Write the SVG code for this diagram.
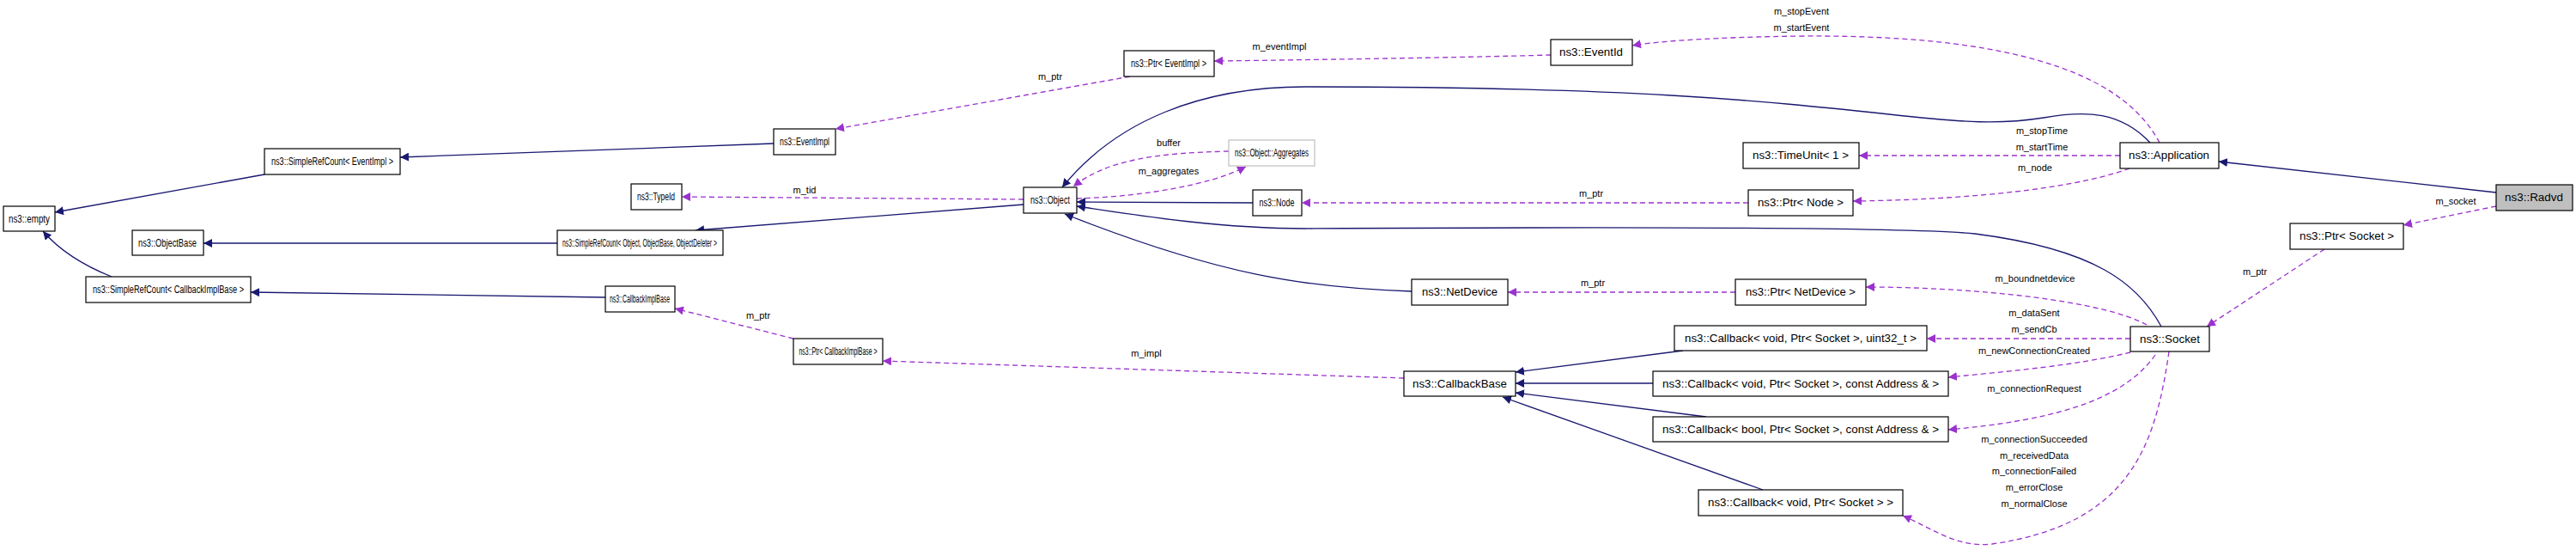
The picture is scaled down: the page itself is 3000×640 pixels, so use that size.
<svg xmlns="http://www.w3.org/2000/svg" width="3000" height="640" viewBox="0 0 3000 640">
<style>
.n rect{fill:#fff;stroke:#000;stroke-width:1.2}
.n text{font-family:"Liberation Sans",Arial,sans-serif;font-size:12px;text-anchor:middle;fill:#000}
.i{fill:none;stroke:#191970;stroke-width:1.3;marker-end:url(#ai)}
.u{fill:none;stroke:#9a32cd;stroke-width:1.3;stroke-dasharray:6,4;marker-end:url(#au)}
.l{font-family:"Liberation Sans",Arial,sans-serif;font-size:11px;text-anchor:middle;fill:#000}
</style>
<defs>
<marker id="ai" viewBox="0 0 10 10" refX="10" refY="5" markerWidth="10" markerHeight="10" markerUnits="userSpaceOnUse" orient="auto"><path d="M0,0L10,5L0,10z" fill="#191970"/></marker>
<marker id="au" viewBox="0 0 10 10" refX="10" refY="5" markerWidth="10" markerHeight="10" markerUnits="userSpaceOnUse" orient="auto"><path d="M0,0L10,5L0,10z" fill="#9a32cd"/></marker>
</defs>
<rect width="3000" height="640" fill="#fff"/>
<g id="edges">
<path class="i" d="M308,203L64,247"/>
<path class="i" d="M130,322C100,310 70,292 50,269"/>
<path class="i" d="M901,167L466,183"/>
<path class="i" d="M649,283L237,283"/>
<path class="i" d="M705,346L292,340"/>
<path class="i" d="M1192,238L810,268"/>
<path class="u" d="M1192,232L794,229"/><text class="l" x="937" y="225">m_tid</text>
<path class="u" d="M1316,89L973,150"/><text class="l" x="1223" y="93">m_ptr</text>
<path class="u" d="M1806,64C1700,67 1500,70 1414,71"/><text class="l" x="1490" y="58">m_eventImpl</text>
<path class="u" d="M2515,166C2480,100 2380,40 2100,42C2000,43 1930,48 1901,53"/><text class="l" x="2098" y="17">m_stopEvent</text><text class="l" x="2098" y="36">m_startEvent</text>
<path class="i" d="M2504,166C2470,130 2430,128 2380,137C2330,145 2290,143 2200,133C2050,117 1900,101 1520,101C1400,101 1300,140 1237,218"/>
<path class="u" d="M2469,181L2165,181"/><text class="l" x="2378" y="156">m_stopTime</text><text class="l" x="2378" y="175">m_startTime</text>
<path class="u" d="M2480,196C2400,225 2250,233 2158,234"/><text class="l" x="2370" y="199">m_node</text>
<path class="u" d="M2036,236L1516,236"/><text class="l" x="1853" y="229">m_ptr</text>
<path class="i" d="M1459,236L1254,235"/>
<path class="u" d="M1431,176C1350,178 1290,185 1250,217"/><text class="l" x="1361" y="170">buffer</text>
<path class="u" d="M1254,231C1330,229 1410,215 1451,194"/><text class="l" x="1361" y="203">m_aggregates</text>
<path class="i" d="M2517,380C2490,330 2440,290 2300,272C2200,262 1700,265 1520,266C1420,266 1320,250 1254,240"/>
<path class="i" d="M1644,339C1520,335 1420,320 1240,249"/>
<path class="i" d="M2907,224L2584,188"/>
<path class="u" d="M2907,240L2799,262"/><text class="l" x="2860" y="238">m_socket</text>
<path class="u" d="M2707,290L2570,380"/><text class="l" x="2626" y="320">m_ptr</text>
<path class="u" d="M2021,340L1756,340"/><text class="l" x="1855" y="333">m_ptr</text>
<path class="u" d="M2500,378C2450,350 2300,334 2173,334"/><text class="l" x="2370" y="328">m_boundnetdevice</text>
<path class="u" d="M2481,394L2244,394"/><text class="l" x="2369" y="368">m_dataSent</text><text class="l" x="2369" y="387">m_sendCb</text>
<path class="u" d="M2481,410C2420,425 2340,432 2269,439"/><text class="l" x="2369" y="412">m_newConnectionCreated</text>
<path class="u" d="M2510,413C2470,470 2380,490 2269,500"/><text class="l" x="2369" y="456">m_connectionRequest</text>
<path class="u" d="M2526,409C2510,520 2480,610 2320,633C2280,638 2250,615 2216,600"/><text class="l" x="2369" y="515">m_connectionSucceeded</text><text class="l" x="2369" y="534">m_receivedData</text><text class="l" x="2369" y="552">m_connectionFailed</text><text class="l" x="2369" y="571">m_errorClose</text><text class="l" x="2369" y="590">m_normalClose</text>
<path class="i" d="M1960,408L1765,433"/>
<path class="i" d="M1925,446L1765,446"/>
<path class="i" d="M1987,485L1765,457"/>
<path class="i" d="M2053,570L1750,462"/>
<path class="u" d="M1635,440L1028,420"/><text class="l" x="1335" y="415">m_impl</text>
<path class="u" d="M924,394L786,359"/><text class="l" x="883" y="371">m_ptr</text>
</g>
<g id="n-empty" class="n"><rect x="4" y="240" width="60" height="29"/><text x="34" y="259" textLength="48" lengthAdjust="spacingAndGlyphs">ns3::empty</text></g>
<g id="n-srcEventImpl" class="n"><rect x="308" y="173" width="158" height="30"/><text x="387" y="192" textLength="142" lengthAdjust="spacingAndGlyphs">ns3::SimpleRefCount&lt; EventImpl &gt;</text></g>
<g id="n-ObjectBase" class="n"><rect x="154" y="268" width="83" height="29"/><text x="195" y="287" textLength="68" lengthAdjust="spacingAndGlyphs">ns3::ObjectBase</text></g>
<g id="n-srcCallbackImplBase" class="n"><rect x="100" y="322" width="192" height="30"/><text x="196" y="341" textLength="176" lengthAdjust="spacingAndGlyphs">ns3::SimpleRefCount&lt; CallbackImplBase &gt;</text></g>
<g id="n-EventImpl" class="n"><rect x="901" y="150" width="72" height="30"/><text x="937" y="169" textLength="58" lengthAdjust="spacingAndGlyphs">ns3::EventImpl</text></g>
<g id="n-TypeId" class="n"><rect x="735" y="214" width="59" height="30"/><text x="764" y="233" textLength="44" lengthAdjust="spacingAndGlyphs">ns3::TypeId</text></g>
<g id="n-srcObject" class="n"><rect x="649" y="268" width="193" height="29"/><text x="745" y="287" textLength="180" lengthAdjust="spacingAndGlyphs">ns3::SimpleRefCount&lt; Object, ObjectBase, ObjectDeleter &gt;</text></g>
<g id="n-CallbackImplBase" class="n"><rect x="705" y="333" width="81" height="30"/><text x="745" y="352" textLength="70" lengthAdjust="spacingAndGlyphs">ns3::CallbackImplBase</text></g>
<g id="n-PtrCallbackImplBase" class="n"><rect x="924" y="394" width="104" height="30"/><text x="976" y="413" textLength="91" lengthAdjust="spacingAndGlyphs">ns3::Ptr&lt; CallbackImplBase &gt;</text></g>
<g id="n-Object" class="n"><rect x="1192" y="218" width="62" height="30"/><text x="1223" y="237" textLength="46" lengthAdjust="spacingAndGlyphs">ns3::Object</text></g>
<g id="n-PtrEventImpl" class="n"><rect x="1309" y="59" width="105" height="30"/><text x="1361" y="78" textLength="88" lengthAdjust="spacingAndGlyphs">ns3::Ptr&lt; EventImpl &gt;</text></g>
<g id="n-Aggregates" class="n"><rect x="1431" y="163" width="100" height="30" style="stroke:#bfbfbf"/><text x="1481" y="182" textLength="86" lengthAdjust="spacingAndGlyphs">ns3::Object::Aggregates</text></g>
<g id="n-Node" class="n"><rect x="1459" y="221" width="57" height="30"/><text x="1487" y="240" textLength="41" lengthAdjust="spacingAndGlyphs">ns3::Node</text></g>
<g id="n-EventId" class="n"><rect x="1806" y="46" width="95" height="30"/><text x="1853" y="65" textLength="74" lengthAdjust="spacingAndGlyphs">ns3::EventId</text></g>
<g id="n-TimeUnit" class="n"><rect x="2030" y="166" width="135" height="30"/><text x="2097" y="185" textLength="112" lengthAdjust="spacingAndGlyphs">ns3::TimeUnit&lt; 1 &gt;</text></g>
<g id="n-Application" class="n"><rect x="2469" y="166" width="115" height="30"/><text x="2526" y="185" textLength="94" lengthAdjust="spacingAndGlyphs">ns3::Application</text></g>
<g id="n-PtrNode" class="n"><rect x="2036" y="221" width="122" height="30"/><text x="2097" y="240" textLength="100" lengthAdjust="spacingAndGlyphs">ns3::Ptr&lt; Node &gt;</text></g>
<g id="n-Radvd" class="n"><rect x="2907" y="215" width="89" height="30" style="fill:#bfbfbf"/><text x="2951" y="234" textLength="68" lengthAdjust="spacingAndGlyphs">ns3::Radvd</text></g>
<g id="n-PtrSocket" class="n"><rect x="2667" y="260" width="132" height="30"/><text x="2733" y="279" textLength="110" lengthAdjust="spacingAndGlyphs">ns3::Ptr&lt; Socket &gt;</text></g>
<g id="n-NetDevice" class="n"><rect x="1644" y="325" width="112" height="30"/><text x="1700" y="344" textLength="88" lengthAdjust="spacingAndGlyphs">ns3::NetDevice</text></g>
<g id="n-PtrNetDevice" class="n"><rect x="2021" y="325" width="152" height="30"/><text x="2097" y="344" textLength="128" lengthAdjust="spacingAndGlyphs">ns3::Ptr&lt; NetDevice &gt;</text></g>
<g id="n-CbUint" class="n"><rect x="1950" y="379" width="294" height="29"/><text x="2097" y="398" textLength="270" lengthAdjust="spacingAndGlyphs">ns3::Callback&lt; void, Ptr&lt; Socket &gt;, uint32_t &gt;</text></g>
<g id="n-CallbackBase" class="n"><rect x="1635" y="432" width="130" height="29"/><text x="1700" y="451" textLength="110" lengthAdjust="spacingAndGlyphs">ns3::CallbackBase</text></g>
<g id="n-CbVoidAddr" class="n"><rect x="1925" y="432" width="344" height="29"/><text x="2097" y="451" textLength="322" lengthAdjust="spacingAndGlyphs">ns3::Callback&lt; void, Ptr&lt; Socket &gt;, const Address &amp; &gt;</text></g>
<g id="n-CbBoolAddr" class="n"><rect x="1925" y="485" width="344" height="29"/><text x="2097" y="504" textLength="322" lengthAdjust="spacingAndGlyphs">ns3::Callback&lt; bool, Ptr&lt; Socket &gt;, const Address &amp; &gt;</text></g>
<g id="n-CbVoid" class="n"><rect x="1978" y="570" width="238" height="30"/><text x="2097" y="589" textLength="216" lengthAdjust="spacingAndGlyphs">ns3::Callback&lt; void, Ptr&lt; Socket &gt; &gt;</text></g>
<g id="n-Socket" class="n"><rect x="2481" y="380" width="92" height="29"/><text x="2527" y="399" textLength="70" lengthAdjust="spacingAndGlyphs">ns3::Socket</text></g>
</svg>
